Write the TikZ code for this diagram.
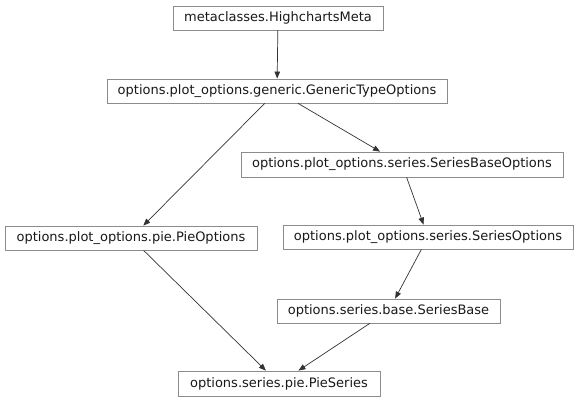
\documentclass[tikz,border=0pt]{standalone}
\usepackage{fontspec}
\setmainfont{DejaVu Sans}
\usetikzlibrary{arrows.meta}
\begin{document}
\begin{tikzpicture}[x=1pt,y=-1pt,
  cls/.style={draw=black!45,line width=0.8pt,rectangle,inner sep=0pt,
    font=\fontsize{13}{15}\selectfont,text=black!90},
  inh/.style={draw=black!80,line width=0.7pt,-{Triangle[length=7pt,width=5.5pt]}}]
\useasboundingbox[fill=white] (0,0) rectangle (578,403);
\node[cls,minimum width=210pt,minimum height=24pt] (meta) at (278,18) {metaclasses.HighchartsMeta};
\node[cls,minimum width=340pt,minimum height=24pt] (gen) at (277,91) {options.plot\_options.generic.GenericTypeOptions};
\node[cls,minimum width=322pt,minimum height=25pt] (sbo) at (402,164.5) {options.plot\_options.series.SeriesBaseOptions};
\node[cls,minimum width=252pt,minimum height=24pt] (pieo) at (131,238) {options.plot\_options.pie.PieOptions};
\node[cls,minimum width=290pt,minimum height=24pt] (so) at (428,237) {options.plot\_options.series.SeriesOptions};
\node[cls,minimum width=223pt,minimum height=24pt] (sb) at (388.5,311) {options.series.base.SeriesBase};
\node[cls,minimum width=202pt,minimum height=25pt] (ps) at (279,383.5) {options.series.pie.PieSeries};
\draw[inh] (meta) -- (gen);
\draw[inh] (gen) -- (pieo);
\draw[inh] (gen) -- (sbo);
\draw[inh] (sbo) -- (so);
\draw[inh] (so) -- (sb);
\draw[inh] (pieo) -- (ps);
\draw[inh] (sb) -- (ps);
\end{tikzpicture}
\end{document}
